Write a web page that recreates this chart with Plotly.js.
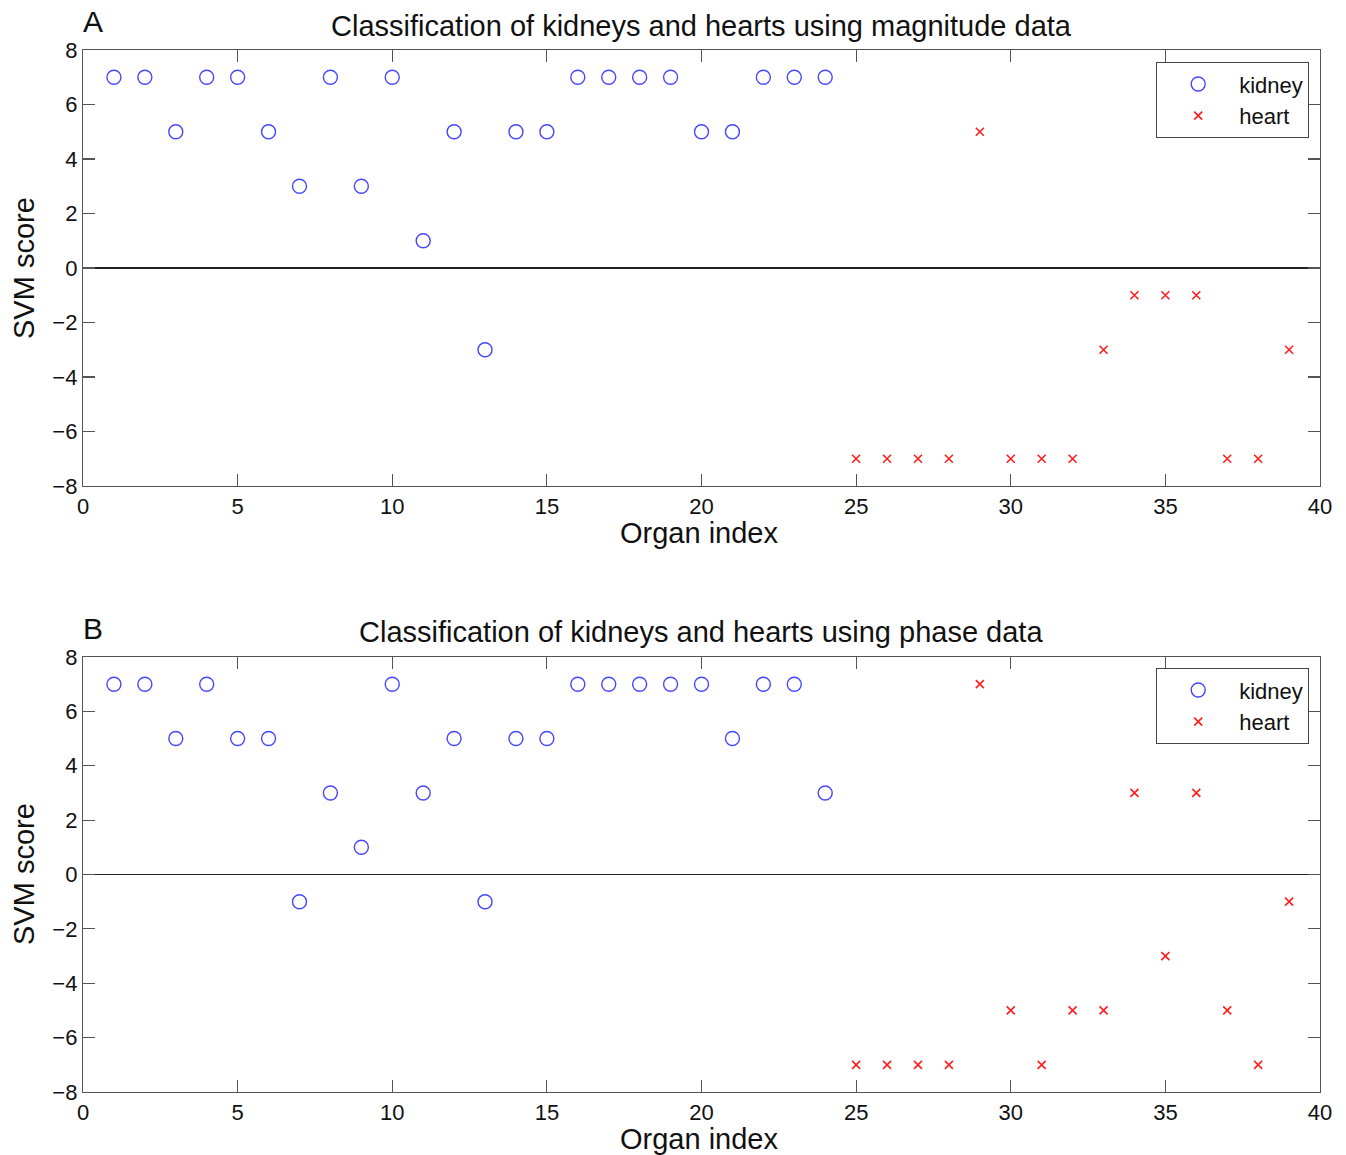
<!DOCTYPE html>
<html>
<head>
<meta charset="utf-8">
<script src="https://cdn.plot.ly/plotly-3.0.1.min.js"></script>
<style>html,body{margin:0;padding:0;background:#fff;}#chart{width:1346px;height:1155px;}</style>
</head>
<body>
<div id="chart"></div>
<script>
// Panel A: magnitude data
const kidneyIndexA = [1,2,3,4,5,6,7,8,9,10,11,12,13,14,15,16,17,18,19,20,21,22,23,24];
const kidneyScoreA = [7,7,5,7,7,5,3,7,3,7,1,5,-3,5,5,7,7,7,7,5,5,7,7,7];
const heartIndexA = [25,26,27,28,29,30,31,32,33,34,35,36,37,38,39];
const heartScoreA = [-7,-7,-7,-7,5,-7,-7,-7,-3,-1,-1,-1,-7,-7,-3];
// Panel B: phase data
const kidneyIndexB = [1,2,3,4,5,6,7,8,9,10,11,12,13,14,15,16,17,18,19,20,21,22,23,24];
const kidneyScoreB = [7,7,5,7,5,5,-1,3,1,7,3,5,-1,5,5,7,7,7,7,7,5,7,7,3];
const heartIndexB = [25,26,27,28,29,30,31,32,33,34,35,36,37,38,39];
const heartScoreB = [-7,-7,-7,-7,7,-5,-7,-5,-5,3,-3,3,-5,-7,-1];

const xTicks = [0,5,10,15,20,25,30,35,40];
const yTicks = [-8,-6,-4,-2,0,2,4,6,8];

const FONT = 'Liberation Sans, Arial, sans-serif';
const kidneyMarker = {symbol:'circle-open', size:14, color:'rgb(70,70,255)', line:{width:1.4, color:'rgb(70,70,255)'}};
const heartMarker = {symbol:'x-thin-open', size:8, color:'rgb(255,30,30)', line:{width:1.6, color:'rgb(255,30,30)'}};

const traces = [
  {x:kidneyIndexA, y:kidneyScoreA, type:'scatter', mode:'markers', name:'kidney', marker:kidneyMarker, xaxis:'x', yaxis:'y', legend:'legend'},
  {x:heartIndexA, y:heartScoreA, type:'scatter', mode:'markers', name:'heart', marker:heartMarker, xaxis:'x', yaxis:'y', legend:'legend'},
  {x:kidneyIndexB, y:kidneyScoreB, type:'scatter', mode:'markers', name:'kidney', marker:kidneyMarker, xaxis:'x2', yaxis:'y2', legend:'legend2'},
  {x:heartIndexB, y:heartScoreB, type:'scatter', mode:'markers', name:'heart', marker:heartMarker, xaxis:'x2', yaxis:'y2', legend:'legend2'}
];

const W = 1346, H = 1155;
const xl = 83/W, xr = 1320/W;
function xAxis(anchor){
  return {domain:[xl,xr], range:[0,40], tickvals:xTicks, ticktext:xTicks.map(String), ticks:'inside', ticklen:12, tickcolor:'#555', tickwidth:1.2,
    showline:true, linecolor:'#555', linewidth:1.2, mirror:'allticks', showgrid:false, zeroline:false, anchor:anchor,
    tickfont:{family:FONT, size:22, color:'#111'}, fixedrange:true};
}
function yAxis(anchor, dom){
  return {domain:dom, range:[-8,8], tickvals:yTicks, ticks:'inside', ticklen:12, tickcolor:'#555', tickwidth:1.2,
    showline:true, linecolor:'#555', linewidth:1.2, mirror:'allticks', showgrid:false, zeroline:true, zerolinecolor:'#222', zerolinewidth:1.5,
    anchor:anchor, tickfont:{family:FONT, size:22, color:'#111'}, fixedrange:true};
}
const legendBase = {bgcolor:'#fff', bordercolor:'#444', borderwidth:1.2, font:{family:FONT, size:22, color:'#111'}, xanchor:'right', yanchor:'top', itemwidth:72, tracegroupgap:0};

const ann = [];
function addText(text,x,y,size,opts){ ann.push(Object.assign({text:text, x:x/W, y:1-y/H, xref:'paper', yref:'paper', xanchor:'center', yanchor:'middle', showarrow:false, font:{family:FONT, size:size, color:'#111'}}, opts||{})); }
addText('Classification of kidneys and hearts using magnitude data', 701, 26, 29);
addText('Classification of kidneys and hearts using phase data', 701, 632, 29);
addText('A', 93, 21, 30);
addText('B', 93, 628, 30);
addText('Organ index', 699, 533, 29);
addText('Organ index', 699, 1139, 29);
addText('SVM score', 24, 268, 29, {textangle:-90});
addText('SVM score', 24, 874, 29, {textangle:-90});

const layout = {
  width:W, height:H, margin:{l:0,r:0,t:0,b:0}, paper_bgcolor:'#fff', plot_bgcolor:'#fff', showlegend:true,
  xaxis:xAxis('y'), yaxis:yAxis('x',[1-486/H, 1-50/H]),
  xaxis2:xAxis('y2'), yaxis2:yAxis('x2',[1-1092/H, 1-657/H]),
  legend:Object.assign({}, legendBase, {x:1309/W, y:1-62/H}),
  legend2:Object.assign({}, legendBase, {x:1309/W, y:1-668/H}),
  annotations:ann
};
Plotly.newPlot('chart', traces, layout, {staticPlot:true});
</script>
</body>
</html>
